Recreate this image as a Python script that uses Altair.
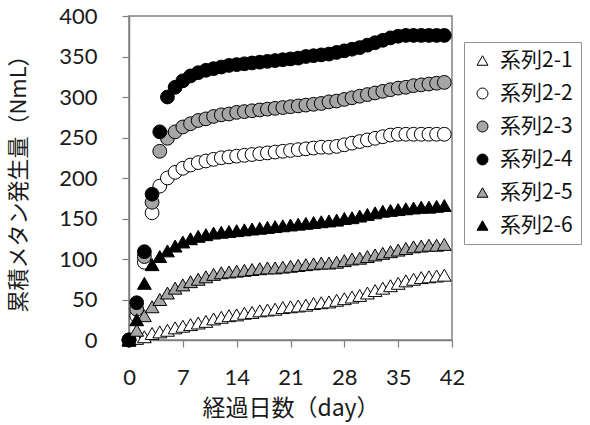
import altair as alt
import pandas as pd

days = list(range(0, 42))
series_names = ["系列2-1", "系列2-2", "系列2-3", "系列2-4", "系列2-5", "系列2-6"]

s2_1 = [0, 2, 4, 8, 10, 12, 15, 17, 19, 21, 23, 26, 28, 30, 31, 33, 34, 36, 37, 38, 40,
        41, 42, 43, 45, 46, 47, 49, 51, 53, 55, 58, 61, 64, 67, 70, 73, 75, 77, 78, 79, 80]
s2_2 = [0, 30, 96, 157, 190, 200, 207, 212, 216, 219, 221, 223, 225, 226, 227, 228, 229, 230, 231, 232, 233,
        234, 235, 236, 237, 238, 238, 239, 241, 243, 245, 247, 249, 251, 253, 254, 254, 254, 254, 254, 254, 254]
s2_3 = [0, 38, 103, 170, 233, 249, 257, 263, 267, 271, 273, 276, 278, 279, 281, 282, 283, 284, 285, 286, 287,
        288, 289, 290, 291, 292, 294, 295, 297, 299, 301, 303, 305, 307, 309, 311, 312, 314, 315, 316, 317, 318]
s2_4 = [0, 46, 109, 180, 257, 300, 312, 320, 326, 330, 333, 335, 337, 339, 340, 341, 342, 343, 344, 345, 346,
        347, 348, 350, 351, 352, 353, 355, 357, 359, 361, 364, 367, 370, 373, 375, 376, 376, 376, 376, 376, 376]
s2_5 = [0, 12, 30, 41, 50, 58, 64, 68, 72, 75, 78, 81, 83, 84, 85, 86, 87, 88, 89, 89, 90,
        91, 92, 93, 94, 95, 95, 96, 98, 100, 101, 103, 105, 107, 109, 111, 113, 115, 116, 117, 117, 118]
s2_6 = [0, 25, 70, 93, 103, 110, 116, 121, 125, 128, 130, 132, 133, 134, 135, 136, 137, 138, 139, 140, 141,
        142, 143, 144, 145, 146, 147, 148, 150, 151, 153, 155, 157, 159, 160, 161, 162, 163, 164, 164, 165, 166]

all_series = [s2_1, s2_2, s2_3, s2_4, s2_5, s2_6]
shapes = ["triangle-up", "circle", "circle", "circle", "triangle-up", "triangle-up"]
fills = ["white", "white", "#a6a6a6", "black", "#a6a6a6", "black"]

x_ticks = [0, 7, 14, 21, 28, 35, 42]
y_ticks = [0, 50, 100, 150, 200, 250, 300, 350, 400]

rows = []
for name, vals in zip(series_names, all_series):
    for d, v in zip(days, vals):
        rows.append({"day": d, "value": v, "series": name})
df = pd.DataFrame(rows)

num_font = "Lato"
jp_font = "Noto Sans CJK JP"
axis_gray = "#808080"

legend = alt.Legend(
    title=None, orient="none", legendX=335, legendY=26,
    padding=8, strokeColor="#909090", fillColor="white",
    labelFont=jp_font, labelFontSize=21, labelColor="#111",
    symbolSize=120, symbolStrokeWidth=1, rowPadding=11, labelOffset=7,
)

chart = alt.Chart(df).mark_point(filled=True, size=190, strokeWidth=1, opacity=1).encode(
    x=alt.X("day:Q", scale=alt.Scale(domain=[0, 42], nice=False),
            axis=alt.Axis(values=x_ticks, title="経過日数（day）", grid=False,
                          tickSize=7, labelPadding=30, labelBaseline="middle", labelFlush=False,
                          titleY=68, titleBaseline="middle", titleFontSize=23)),
    y=alt.Y("value:Q", scale=alt.Scale(domain=[0, 400], nice=False),
            axis=alt.Axis(values=y_ticks, title="累積メタン発生量（NmL）", grid=False,
                          tickSize=7, labelPadding=25,
                          titleX=-111, titleY=162, titleAngle=-90, titleBaseline="middle")),
    shape=alt.Shape("series:N", scale=alt.Scale(domain=series_names, range=shapes), legend=legend),
    fill=alt.Fill("series:N", scale=alt.Scale(domain=series_names, range=fills), legend=legend),
    stroke=alt.Stroke("series:N", scale=alt.Scale(domain=series_names, range=["black"] * 6), legend=legend),
    order=alt.Order("idx:Q"),
).transform_window(idx="row_number()").properties(
    width=323, height=324,
    autosize=alt.AutoSizeParams(type="none"),
    padding={"left": 129, "top": 16, "right": 138, "bottom": 85},
).configure_view(
    stroke=axis_gray, strokeWidth=1.5
).configure_axis(
    domainColor=axis_gray, domainWidth=1.5, tickColor=axis_gray, tickWidth=1.2,
    labelFont=num_font, labelFontSize=22, labelColor="#1a1a1a",
    titleFont=jp_font, titleFontSize=22, titleColor="#1a1a1a", titleFontWeight="normal",
)

chart.save("out.html", embed_options={"renderer": "svg", "actions": False})
